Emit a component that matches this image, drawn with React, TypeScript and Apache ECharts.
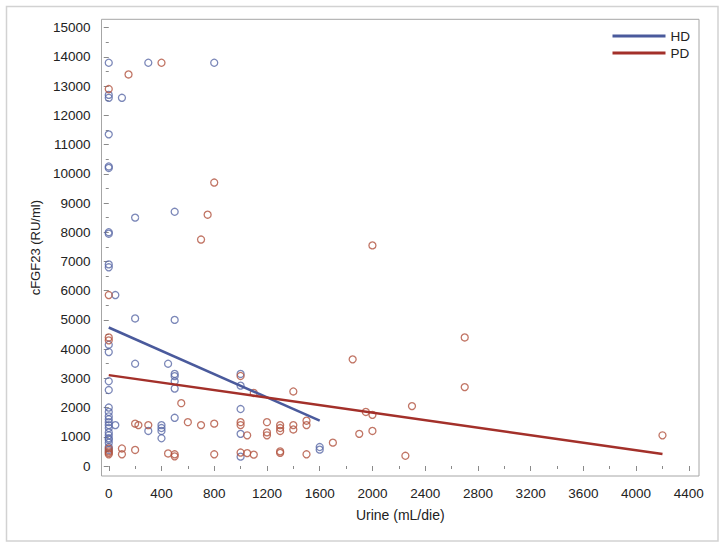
import React, { useEffect, useRef } from "react";
import * as echarts from "echarts";

// HD (haemodialysis) points: [urine mL/die, cFGF23 RU/ml]
const hdPoints: number[][] = [
  [0, 13800], [300, 13800], [800, 13800], [0, 12700], [0, 12600], [100, 12600],
  [0, 11350], [0, 10250], [0, 10200], [500, 8700], [200, 8500], [0, 8000], [0, 7950],
  [0, 6900], [0, 6800], [50, 5850], [200, 5050], [500, 5000], [0, 4150], [0, 3900],
  [200, 3500], [450, 3500], [500, 3150], [500, 3075], [1000, 3150], [0, 2900], [500, 2900],
  [0, 2600], [500, 2650], [1000, 2750], [0, 2000], [1000, 1950], [0, 1850], [0, 1700],
  [0, 1600], [0, 1500], [0, 1400], [0, 1300], [0, 1150], [0, 1050], [0, 950], [0, 900],
  [0, 800], [0, 650], [0, 550], [500, 1650], [50, 1400], [300, 1200], [400, 1400],
  [400, 1300], [400, 1200], [400, 950], [1000, 1100], [1000, 320], [1600, 650], [1600, 560],
];

// PD (peritoneal dialysis) points
const pdPoints: number[][] = [
  [400, 13800], [150, 13400], [0, 12900], [800, 9700], [750, 8600], [700, 7750],
  [2000, 7550], [0, 5850], [0, 4400], [0, 4300], [2700, 4400], [1850, 3650], [1000, 3080],
  [2700, 2700], [1100, 2500], [1400, 2550], [550, 2150], [2300, 2050], [1950, 1850],
  [2000, 1750], [1500, 1550], [200, 1450], [225, 1400], [300, 1400], [600, 1500], [700, 1400],
  [800, 1450], [1000, 1500], [1000, 1400], [1200, 1500], [1200, 1150], [1200, 1050],
  [1050, 1050], [1300, 1400], [1300, 1300], [1300, 1200], [1400, 1400], [1400, 1250],
  [1500, 1400], [1900, 1100], [2000, 1200], [1700, 800], [4200, 1050], [0, 600], [0, 500],
  [0, 450], [0, 400], [100, 600], [100, 400], [200, 550], [450, 430], [500, 400], [500, 330],
  [800, 400], [1000, 460], [1050, 440], [1100, 390], [1300, 500], [1300, 450], [1500, 400],
  [2250, 350],
];

// Fitted regression lines (end points)
const hdFit: number[][] = [[0, 4740], [1600, 1550]];
const pdFit: number[][] = [[0, 3110], [4200, 410]];

const xMajorTicks = [0, 400, 800, 1200, 1600, 2000, 2400, 2800, 3200, 3600, 4000, 4400];
const xMinorTicks = [200, 600, 1000, 1400, 1800, 2200, 2600, 3000, 3400, 3800, 4200];
const yMajorTicks = [0, 1000, 2000, 3000, 4000, 5000, 6000, 7000, 8000, 9000, 10000, 11000, 12000, 13000, 14000, 15000];
const yMinorTicks = [500, 1500, 2500, 3500, 4500, 5500, 6500, 7500, 8500, 9500, 10500, 11500, 12500, 13500, 14500];

const X_MIN = -55;
const X_MAX = 4477;
const Y_MIN = -342;
const Y_MAX = 15287;

const FONT = "'Liberation Sans', Arial, Helvetica, sans-serif";
const TEXT_COLOR = "#222";
const TICK_COLOR = "#8a8a8a";
const HD_MARK = "#5a69a6";
const PD_MARK = "#b1523f";
const HD_LINE = "#4a5a9c";
const PD_LINE = "#a3302a";

const plain = (v: number) => String(v);

export default function App() {
  const ref = useRef<HTMLDivElement>(null);

  useEffect(() => {
    document.body.style.margin = "0";
    if (!ref.current) return;
    const chart = echarts.init(ref.current, undefined, { renderer: "svg" });

    const hiddenAxisBase = {
      type: "value" as const,
      axisLine: { show: false },
      splitLine: { show: false },
    };

    chart.setOption({
      animation: false,
      backgroundColor: "#ffffff",
      textStyle: { fontFamily: FONT },
      graphic: [
        {
          type: "rect",
          shape: { x: 6.5, y: 6.5, width: 711.5, height: 534.5 },
          style: { fill: "none", stroke: "#d2d2d2", lineWidth: 1.5 },
          silent: true,
        },
      ],
      grid: {
        left: 101.5,
        right: 27,
        top: 19.3,
        bottom: 74,
        show: true,
        borderColor: "#a6a6a6",
        borderWidth: 1,
        backgroundColor: "transparent",
      },
      legend: {
        orient: "vertical",
        right: 36,
        top: 29,
        padding: 0,
        itemGap: 3,
        itemWidth: 53,
        itemHeight: 3,
        textStyle: { fontSize: 13.5, color: TEXT_COLOR, fontFamily: FONT },
        data: [
          { name: "HD", icon: "rect", itemStyle: { color: HD_LINE } },
          { name: "PD", icon: "rect", itemStyle: { color: PD_LINE } },
        ],
      },
      xAxis: [
        {
          ...hiddenAxisBase,
          min: X_MIN,
          max: X_MAX,
          position: "bottom",
          name: "Urine (mL/die)",
          nameLocation: "middle",
          nameGap: 32,
          nameTextStyle: { fontSize: 14, color: TEXT_COLOR, fontFamily: FONT },
          axisTick: {
            show: true,
            customValues: xMajorTicks,
            length: 5,
            lineStyle: { color: TICK_COLOR, width: 1 },
          },
          axisLabel: {
            customValues: xMajorTicks,
            formatter: plain,
            fontSize: 13.5,
            color: TEXT_COLOR,
            margin: 10,
            fontFamily: FONT,
          },
        },
        {
          ...hiddenAxisBase,
          min: X_MIN,
          max: X_MAX,
          position: "bottom",
          axisTick: {
            show: true,
            customValues: xMinorTicks,
            length: 3,
            lineStyle: { color: TICK_COLOR, width: 1 },
          },
          axisLabel: { show: false },
        },
      ],
      yAxis: [
        {
          ...hiddenAxisBase,
          min: Y_MIN,
          max: Y_MAX,
          position: "left",
          name: "cFGF23 (RU/ml)",
          nameLocation: "middle",
          nameGap: 60,
          nameTextStyle: { fontSize: 13, color: TEXT_COLOR, fontFamily: FONT },
          axisTick: {
            show: true,
            customValues: yMajorTicks,
            length: 5,
            lineStyle: { color: TICK_COLOR, width: 1 },
          },
          axisLabel: {
            customValues: yMajorTicks,
            formatter: plain,
            fontSize: 13.5,
            color: TEXT_COLOR,
            margin: 11,
            fontFamily: FONT,
          },
        },
        {
          ...hiddenAxisBase,
          min: Y_MIN,
          max: Y_MAX,
          position: "left",
          axisTick: {
            show: true,
            customValues: yMinorTicks,
            length: 3,
            lineStyle: { color: TICK_COLOR, width: 1 },
          },
          axisLabel: { show: false },
        },
      ],
      series: [
        {
          name: "HD points",
          type: "scatter",
          xAxisIndex: 0,
          yAxisIndex: 0,
          data: hdPoints,
          symbol: "circle",
          symbolSize: 7,
          itemStyle: { color: "rgba(255,255,255,0)", borderColor: HD_MARK, borderWidth: 1.3 },
          z: 3,
        },
        {
          name: "PD points",
          type: "scatter",
          xAxisIndex: 0,
          yAxisIndex: 0,
          data: pdPoints,
          symbol: "circle",
          symbolSize: 7,
          itemStyle: { color: "rgba(255,255,255,0)", borderColor: PD_MARK, borderWidth: 1.3 },
          z: 3,
        },
        {
          name: "HD",
          type: "line",
          xAxisIndex: 0,
          yAxisIndex: 0,
          data: hdFit,
          showSymbol: false,
          symbol: "none",
          color: HD_LINE,
          itemStyle: { color: HD_LINE },
          lineStyle: { color: HD_LINE, width: 2.5 },
          z: 4,
        },
        {
          name: "PD",
          type: "line",
          xAxisIndex: 0,
          yAxisIndex: 0,
          data: pdFit,
          showSymbol: false,
          symbol: "none",
          color: PD_LINE,
          itemStyle: { color: PD_LINE },
          lineStyle: { color: PD_LINE, width: 2.5 },
          z: 4,
        },
      ],
    });

    return () => {
      chart.dispose();
    };
  }, []);

  return <div ref={ref} style={{ width: 726, height: 550 }} />;
}
